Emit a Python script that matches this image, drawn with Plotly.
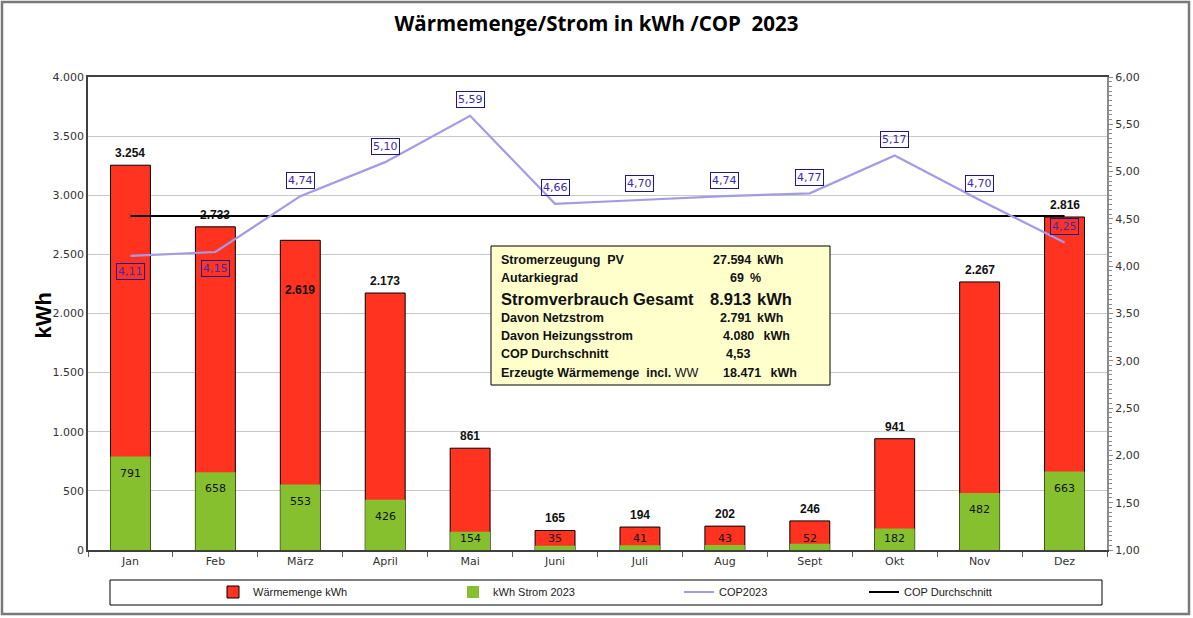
import plotly.graph_objects as go

# ---------------- data ----------------
months = ["Jan", "Feb", "März", "April", "Mai", "Juni", "Juli", "Aug", "Sept", "Okt", "Nov", "Dez"]
waermemenge = [3254, 2733, 2619, 2173, 861, 165, 194, 202, 246, 941, 2267, 2816]
strom = [791, 658, 553, 426, 154, 35, 41, 43, 52, 182, 482, 663]
cop = [4.11, 4.15, 4.74, 5.10, 5.59, 4.66, 4.70, 4.74, 4.77, 5.17, 4.70, 4.25]
cop_avg = 4.53

left_ticks = [0, 500, 1000, 1500, 2000, 2500, 3000, 3500, 4000]
right_ticks = [1.0, 1.5, 2.0, 2.5, 3.0, 3.5, 4.0, 4.5, 5.0, 5.5, 6.0]

pv_kwh = 27594
autarkie_pct = 69
verbrauch_kwh = 8913
netz_kwh = 2791
heizung_kwh = 4080
waerme_total_kwh = 18471

# ---------------- helpers ----------------
W, H = 1193, 618
PL, PR, PT, PB = 88, 1107, 77, 550  # plot area in pixels


def px_x(p):
    return (p - PL) / (PR - PL)


def px_y(p):
    return (PB - p) / (PB - PT)


def thousands(v):
    return f"{v:,}".replace(",", ".")


def dec2(v):
    return f"{v:.2f}".replace(".", ",")


RED = "#FF3320"
GREEN = "#86C02E"
COPC = "#A39BE8"
TICKFONT = dict(family="DejaVu Sans", size=11, color="#333333")

fig = go.Figure()

fig.add_trace(go.Bar(
    x=months, y=waermemenge, name="Wärmemenge kWh", width=0.47,
    marker=dict(color=RED, line=dict(color="#000000", width=1)),
    legend="legend", hoverinfo="x+y"))
fig.add_trace(go.Bar(
    x=months, y=strom, name="kWh Strom 2023", width=0.47,
    marker=dict(color=GREEN, line=dict(width=0)),
    legend="legend2", hoverinfo="x+y"))
fig.add_trace(go.Scatter(
    x=months, y=[cop_avg] * len(months), name="COP Durchschnitt", yaxis="y2",
    mode="lines", line=dict(color="#000000", width=2), legend="legend4"))
fig.add_trace(go.Scatter(
    x=months, y=cop, name="COP2023", yaxis="y2", mode="lines",
    line=dict(color=COPC, width=2.2), legend="legend3"))

annotations = []

# red bar labels (above bar; März placed inside)
red_shift = {"März": -50}
for m, v in zip(months, waermemenge):
    annotations.append(dict(
        x=m, y=v, xref="x", yref="y", text=f"<b>{thousands(v)}</b>",
        showarrow=False, yanchor="middle", yshift=red_shift.get(m, 12),
        font=dict(family="Liberation Sans", size=12, color="#111111")))

# green bar labels
for m, v in zip(months, strom):
    annotations.append(dict(
        x=m, y=max(v - 140, 100), xref="x", yref="y", text=str(v),
        showarrow=False, yanchor="middle",
        font=dict(family="DejaVu Sans", size=11, color="#111111")))

# COP labels
below = {"Jan", "Feb"}
for m, v in zip(months, cop):
    annotations.append(dict(
        x=m, y=v, xref="x", yref="y2", text=dec2(v), showarrow=False,
        yanchor="middle", yshift=-16 if m in below else 16,
        bordercolor="#1E1590", borderwidth=1, borderpad=1,
        font=dict(family="DejaVu Sans", size=11, color="#3A2BB8")))

# axis title kWh
annotations.append(dict(
    x=px_x(28), y=px_y(316), xref="paper", yref="paper", text="<b>kWh</b>",
    textangle=-90, showarrow=False,
    font=dict(family="Liberation Sans", size=22, color="#000000")))

# info box text
box_font = dict(family="Liberation Sans", size=12.5, color="#111111")
big_font = dict(family="Liberation Sans", size=16.5, color="#111111")
rows = [
    (260, "<b>Stromerzeugung  PV</b>", f"<b>{thousands(pv_kwh)}</b>", "<b>kWh</b>", box_font),
    (278, "<b>Autarkiegrad</b>", f"<b>{autarkie_pct}</b>", "<b>%</b>", box_font),
    (299, "<b>Stromverbrauch Gesamt</b>", f"<b>{thousands(verbrauch_kwh)}</b>", "<b>kWh</b>", big_font),
    (318, "<b>Davon Netzstrom</b>", f"<b>{thousands(netz_kwh)}</b>", "<b>kWh</b>", box_font),
    (336, "<b>Davon Heizungsstrom</b>", f"<b>{thousands(heizung_kwh)}</b>", "<b> kWh</b>", box_font),
    (354, "<b>COP Durchschnitt</b>", f"<b>{dec2(cop_avg)}</b>", "", box_font),
    (373, "<b>Erzeugte Wärmemenge  incl.</b> WW", f"<b>{thousands(waerme_total_kwh)}</b>", "<b> kWh</b>", box_font),
]
value_right = {0: 753, 1: 746, 2: 753, 3: 753, 4: 756, 5: 752, 6: 763}
for i, (py, label, val, unit, f) in enumerate(rows):
    annotations.append(dict(x=px_x(499), y=px_y(py), xref="paper", yref="paper",
                            text=label, showarrow=False, xanchor="left", yanchor="middle", font=f))
    annotations.append(dict(x=px_x(value_right[i]), y=px_y(py), xref="paper", yref="paper",
                            text=val, showarrow=False, xanchor="right", yanchor="middle", font=f))
    if unit:
        annotations.append(dict(x=px_x(value_right[i] + 2), y=px_y(py), xref="paper", yref="paper",
                                text=unit, showarrow=False, xanchor="left", yanchor="middle", font=f))

shapes = [
    # info box
    dict(type="rect", xref="paper", yref="paper", x0=px_x(491), x1=px_x(830),
         y0=px_y(385), y1=px_y(246), fillcolor="#FFFFCC",
         line=dict(color="#000000", width=1), layer="above"),
    # legend box
    dict(type="rect", xref="paper", yref="paper", x0=px_x(110), x1=px_x(1102),
         y0=px_y(605), y1=px_y(580), line=dict(color="#000000", width=1), layer="above"),
    # outer chart border
    dict(type="rect", xref="paper", yref="paper", x0=px_x(2), x1=px_x(1189),
         y0=px_y(614), y1=px_y(2), line=dict(color="#7A7A7A", width=2.5), layer="above"),
]

leg_common = dict(orientation="h", yanchor="middle", y=px_y(592), xanchor="left",
                  bgcolor="rgba(0,0,0,0)", borderwidth=0,
                  font=dict(family="Liberation Sans", size=11, color="#222222"))

fig.update_layout(
    width=W, height=H, autosize=False,
    margin=dict(l=PL, r=W - PR, t=PT, b=H - PB, pad=0),
    paper_bgcolor="#FFFFFF", plot_bgcolor="#FFFFFF",
    separators=",.",
    barmode="overlay",
    title=dict(text="<b>Wärmemenge/Strom in kWh /COP  2023</b>", x=0.5, xanchor="center",
               xref="container", y=1 - 24 / H, yanchor="middle", yref="container",
               font=dict(family="Open Sans", size=20.5, color="#000000")),
    xaxis=dict(type="category", categoryorder="array", categoryarray=months,
               showline=True, linecolor="#404040", linewidth=1.5, mirror=True,
               ticks="outside", tickson="boundaries", ticklen=5, tickcolor="#606060",
               tickfont=TICKFONT, showgrid=False, fixedrange=True),
    yaxis=dict(range=[0, 4000], tickvals=left_ticks, tickformat=",d",
               showgrid=True, gridcolor="#C8C8C8", gridwidth=1,
               showline=True, linecolor="#404040", linewidth=1.5,
               ticks="", zeroline=False, tickfont=TICKFONT, fixedrange=True),
    yaxis2=dict(range=[1, 6], overlaying="y", side="right", tickvals=right_ticks,
                tickformat=".2f", showgrid=False, zeroline=False,
                showline=True, linecolor="#8C8C8C", linewidth=2,
                ticks="outside", ticklen=4, tickcolor="#8C8C8C",
                minor=dict(dtick=0.05, ticks="outside", ticklen=3, tickcolor="#8C8C8C"),
                tickfont=TICKFONT, fixedrange=True),
    legend=dict(x=px_x(213), **leg_common),
    legend2=dict(x=px_x(453), **leg_common),
    legend3=dict(x=px_x(679), **leg_common),
    legend4=dict(x=px_x(864), **leg_common),
    annotations=annotations,
    shapes=shapes,
    showlegend=True,
)

fig.write_html("out.html", config={"displayModeBar": False},
               post_script="document.body.style.margin='0';document.body.style.overflow='hidden';")
